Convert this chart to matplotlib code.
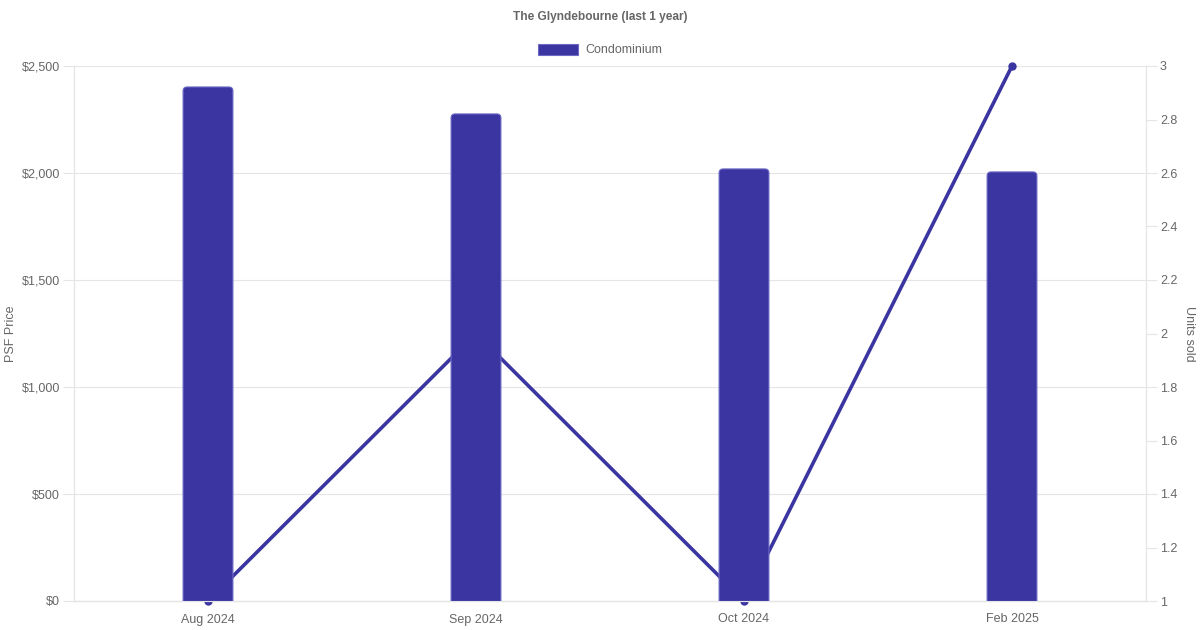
import matplotlib.pyplot as plt
from matplotlib.patches import FancyBboxPatch, Patch
from matplotlib.ticker import FuncFormatter, MultipleLocator

months = ['Aug 2024', 'Sep 2024', 'Oct 2024', 'Feb 2025']
psf_price = [2402, 2276, 2019, 2005]
units_sold = [1, 2, 1, 3]

bar_color = '#3a35a0'
text_color = '#666666'
grid_color = '#e5e5e5'

plt.rcParams['font.family'] = ['Liberation Sans', 'DejaVu Sans']

fig = plt.figure(figsize=(12, 6.3), dpi=100)
ax = fig.add_axes([74 / 1200, 1 - 601 / 630, (1146 - 74) / 1200, (601 - 66) / 630])
ax2 = ax.twinx()

x = list(range(len(months)))

# right axis only gives the scale for units sold
ax2.set_ylim(1, 3)
ax2.yaxis.set_major_locator(MultipleLocator(0.2))
ax2.yaxis.set_major_formatter(FuncFormatter(lambda v, p: f'{v:g}'))

# line lives in the left axes (so it sits above the grid, below the bars)
# but uses the right axis scale
ax.plot(x, units_sold, color=bar_color, lw=2.6, marker='o', ms=5,
        clip_on=False, transform=ax2.transData, zorder=2)

bars = ax.bar(x, psf_price, width=0.186, color=bar_color)
for r in bars:
    x0, y0 = r.get_x(), r.get_y()
    w, h = r.get_width(), r.get_height()
    r.remove()
    p = FancyBboxPatch((x0, y0 - 100), w, h + 100,
                       boxstyle='round,pad=0,rounding_size=0.015',
                       mutation_aspect=1250, facecolor=bar_color,
                       edgecolor='#6d69c4', lw=0.8, zorder=3)
    ax.add_patch(p)

ax.set_xlim(-0.5, len(months) - 0.5)
ax.set_ylim(0, 2500)
ax.set_xticks(x)
ax.set_xticklabels(months)
ax.yaxis.set_major_locator(MultipleLocator(500))
ax.yaxis.set_major_formatter(FuncFormatter(lambda v, p: f'${v:,.0f}'))
ax.grid(axis='y', color=grid_color, lw=0.8)
ax.set_axisbelow(True)

for a in (ax, ax2):
    a.tick_params(colors=text_color, labelsize=9, length=8, width=0.8)
    a.tick_params(axis='y', color=grid_color, pad=2)
    for s in a.spines.values():
        s.set_color(grid_color)
        s.set_linewidth(0.8)
    a.spines['top'].set_visible(False)
ax.spines['bottom'].set_color('#c8c8c8')
ax.tick_params(axis='x', length=0, pad=9)

fig.text(11 / 1200, 1 - 334 / 630, 'PSF Price', rotation=90, ha='center', va='center',
         fontsize=9, color=text_color)
fig.text(1189 / 1200, 1 - 334 / 630, 'Units sold', rotation=270, ha='center', va='center',
         fontsize=9, color=text_color)
fig.text(0.5, 1 - 17 / 630, 'The Glyndebourne (last 1 year)', ha='center', va='center',
         fontsize=8.6, fontweight='bold', color=text_color)
fig.legend(handles=[Patch(facecolor=bar_color, edgecolor='#6d69c4', lw=0.8)],
           labels=['Condominium'], loc='center', bbox_to_anchor=(0.5, 1 - 50 / 630),
           frameon=False, fontsize=9, labelcolor=text_color,
           handlelength=3.2, handleheight=1.0, handletextpad=0.6)

fig.savefig('out.png', dpi=100)
